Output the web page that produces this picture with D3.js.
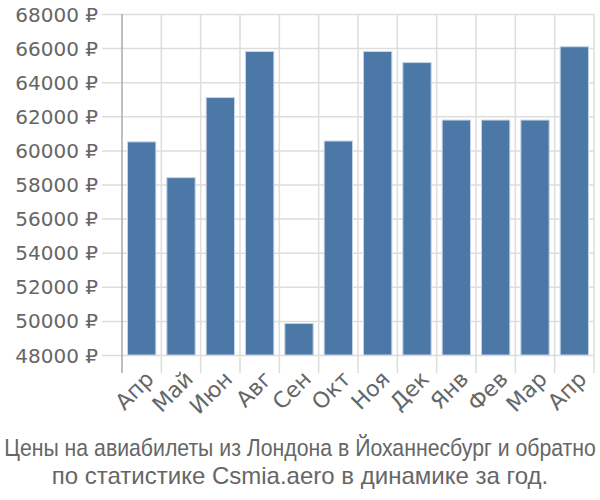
<!DOCTYPE html>
<html><head><meta charset="utf-8">
<script src="https://cdn.jsdelivr.net/npm/d3@7"></script>
<style>body{margin:0;background:#fff}svg{display:block}</style>
</head><body><svg width="600" height="500"></svg>
<script>
const categories = ["Апр","Май","Июн","Авг","Сен","Окт","Ноя","Дек","Янв","Фев","Мар","Апр"];
const values = [60500, 58400, 63100, 65800, 49850, 60550, 65800, 65150, 61780, 61780, 61780, 66080];
const yTicks = [48000,50000,52000,54000,56000,58000,60000,62000,64000,66000,68000];
const titleLines = ["Цены на авиабилеты из Лондона в Йоханнесбург и обратно","по статистике Csmia.aero в динамике за год."];

const svg = d3.select("svg");
const m = {l:122, r:594, t:14, b:355};
const x = d3.scaleBand().domain(d3.range(categories.length)).range([m.l, m.r]).paddingInner(0.28).paddingOuter(0.14);
const y = d3.scaleLinear().domain([48000, 68000]).range([m.b, m.t]);
const tickFont = "DejaVu Sans, sans-serif";
const titleFont = "Liberation Sans, Arial, sans-serif";

const gy = svg.append("g").attr("transform",`translate(${m.l},0)`)
  .call(d3.axisLeft(y).tickValues(yTicks).tickSize(20).tickFormat(d=>d+" ₽").tickPadding(4));
gy.select(".domain").remove();
gy.selectAll(".tick line").attr("stroke","#ddd").attr("stroke-width",1.5).attr("x2", m.r-m.l).attr("x1",-20);
gy.selectAll(".tick text").attr("fill","#666").style("font-size","20px").style("font-family",tickFont).attr("dy","0.35em");

const step = (m.r-m.l)/categories.length;
svg.append("g").selectAll("line").data(d3.range(categories.length+1)).join("line")
  .attr("x1",i=>m.l+i*step).attr("x2",i=>m.l+i*step)
  .attr("y1",m.t).attr("y2",m.b+18)
  .attr("stroke",(d,i)=>i===0?"#aaa":"#ddd").attr("stroke-width",1.5);

svg.append("g").selectAll("rect").data(values).join("rect")
  .attr("x",(d,i)=>x(i)).attr("width",x.bandwidth())
  .attr("y",d=>y(d)).attr("height",d=>y(48000)-y(d))
  .attr("fill","#4c78a8").attr("stroke","#c5d3e6").attr("stroke-width",1);

svg.append("g").selectAll("text").data(categories).join("text")
  .attr("transform",(d,i)=>`translate(${x(i)+x.bandwidth()/2+8},${m.b+20}) rotate(-45)`)
  .attr("text-anchor","end").attr("dy","0.35em")
  .attr("fill","#666").style("font-size","22px").style("font-family",tickFont)
  .text(d=>d);

const tl = svg.append("g").selectAll("text").data(titleLines).join("text")
  .attr("x",300).attr("y",(d,i)=>456+i*28).attr("text-anchor","middle")
  .attr("fill","#666").style("font-size","24px").style("font-family",titleFont)
  .text(d=>d);
tl.each(function(d,i){
  const w = this.getComputedTextLength();
  if (w > 592) {
    const s = 592/w;
    d3.select(this).attr("x",0).attr("y",0)
      .attr("transform",`translate(300,${456+i*28}) scale(${s},1)`);
  }
});
</script></body></html>
